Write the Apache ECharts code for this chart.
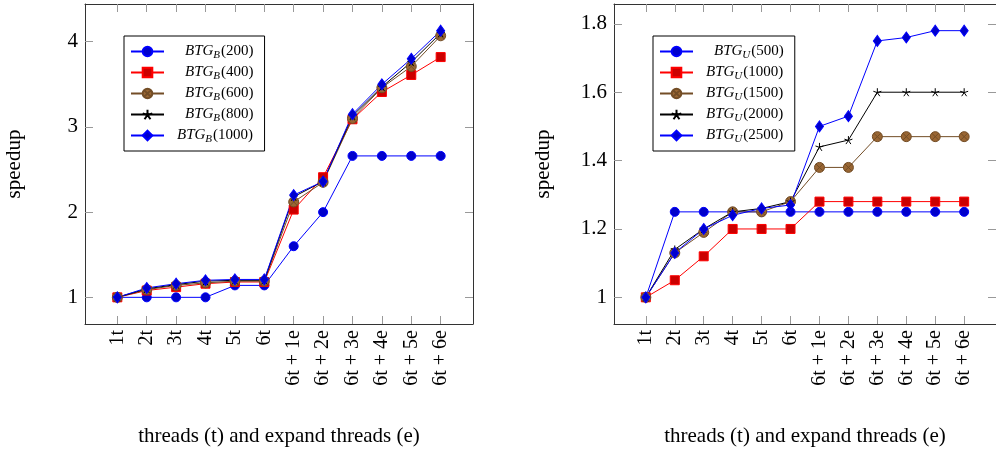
<!DOCTYPE html>
<html><head><meta charset="utf-8">
<script src="https://cdn.jsdelivr.net/npm/echarts@6/dist/echarts.min.js"></script>
<style>html,body{margin:0;padding:0;background:#fff}#c{width:996px;height:452px}</style>
</head><body><div id="c"></div>
<script>
// ---- data ----
const categories = ['1t','2t','3t','4t','5t','6t','6t + 1e','6t + 2e','6t + 3e','6t + 4e','6t + 5e','6t + 6e'];
const leftTicks = [1, 2, 3, 4];
const rightTicks = [1, 1.2, 1.4, 1.6, 1.8];
const leftNames = ['BTG_B(200)','BTG_B(400)','BTG_B(600)','BTG_B(800)','BTG_B(1000)'];
const rightNames = ['BTG_U(500)','BTG_U(1000)','BTG_U(1500)','BTG_U(2000)','BTG_U(2500)'];
const btgB200  = [1, 1,    1,    1,    1.14, 1.14, 1.60, 2.00, 2.66, 2.66, 2.66, 2.66];
const btgB400  = [1, 1.08, 1.12, 1.16, 1.18, 1.18, 2.03, 2.41, 3.09, 3.41, 3.61, 3.82];
const btgB600  = [1, 1.09, 1.14, 1.17, 1.19, 1.19, 2.12, 2.35, 3.10, 3.46, 3.71, 4.07];
const btgB800  = [1, 1.10, 1.15, 1.19, 1.20, 1.20, 2.18, 2.36, 3.13, 3.47, 3.76, 4.10];
const btgB1000 = [1, 1.11, 1.16, 1.20, 1.21, 1.21, 2.20, 2.36, 3.15, 3.50, 3.80, 4.13];
const btgU500  = [1, 1.25, 1.25, 1.25, 1.25, 1.25, 1.25, 1.25, 1.25, 1.25, 1.25, 1.25];
const btgU1000 = [1, 1.05, 1.12, 1.20, 1.20, 1.20, 1.28, 1.28, 1.28, 1.28, 1.28, 1.28];
const btgU1500 = [1, 1.13, 1.19, 1.25, 1.25, 1.28, 1.38, 1.38, 1.47, 1.47, 1.47, 1.47];
const btgU2000 = [1, 1.14, 1.20, 1.25, 1.26, 1.28, 1.44, 1.46, 1.60, 1.60, 1.60, 1.60];
const btgU2500 = [1, 1.13, 1.20, 1.24, 1.26, 1.27, 1.50, 1.53, 1.75, 1.76, 1.78, 1.78];
const leftSeries = [btgB200, btgB400, btgB600, btgB800, btgB1000];
const rightSeries = [btgU500, btgU1000, btgU1500, btgU2000, btgU2500];

// ---- styles ----
const FONT = 'Liberation Serif';
const idx = categories.map((_, i) => i);
const styles = [
  { symbol: 'circle', size: 9, line: '#0000FF', fill: '#0000CC' },
  { symbol: 'rect', size: 9, line: '#FF0000', fill: '#CC0000' },
  { symbol: 'path://M10,0A10,10 0 1,1 10,20A10,10 0 1,1 10,0ZM2.93,2.93L17.07,17.07M17.07,2.93L2.93,17.07', size: 10, line: '#734D26', fill: '#996633' },
  { symbol: 'path://M0,-10L0,0M0,0L9.51,-3.09M0,0L5.88,8.09M0,0L-5.88,8.09M0,0L-9.51,-3.09', size: 8, line: '#000000', fill: 'none' },
  { symbol: 'diamond', size: [8, 11], line: '#0000FF', fill: '#0000CC' }
];

function makeSeries(names, arrays, gi) {
  return arrays.map((arr, k) => {
    const s = styles[k];
    return {
      type: 'line', name: names[k], xAxisIndex: gi * 2, yAxisIndex: gi * 2,
      data: arr.map((v, i) => [i, v]),
      symbol: s.symbol, symbolSize: s.size, showAllSymbol: true,
      lineStyle: { color: s.line, width: 1 },
      itemStyle: { color: s.fill === 'none' ? 'rgba(0,0,0,0)' : s.fill, borderColor: s.line, borderWidth: 1 },
      emphasis: { disabled: true }, animation: false
    };
  });
}

function xAxes(gi) {
  const common = {
    gridIndex: gi, type: 'value', min: -1.1, max: 12.1,
    splitLine: { show: false },
    axisLine: { show: true, onZero: false, lineStyle: { color: '#333', width: 1 } },
    axisTick: { show: true, inside: true, length: 8, customValues: idx, lineStyle: { color: '#999' } }
  };
  return [
    Object.assign({}, common, {
      position: 'bottom',
      axisLabel: { show: true, customValues: idx, rotate: 90, margin: 6, color: '#000',
        fontFamily: FONT, fontSize: 20, formatter: v => categories[Math.round(v)] },
      name: 'threads (t) and expand threads (e)', nameLocation: 'middle', nameGap: 102,
      nameTextStyle: { fontFamily: FONT, fontSize: 21, color: '#000' }
    }),
    Object.assign({}, common, { position: 'top', axisLabel: { show: false } })
  ];
}

function yAxes(gi, min, max, ticks) {
  const common = {
    gridIndex: gi, type: 'value', min: min, max: max,
    splitLine: { show: false },
    axisLine: { show: true, onZero: false, lineStyle: { color: '#333', width: 1 } },
    axisTick: { show: true, inside: true, length: 8, customValues: ticks, lineStyle: { color: '#999' } }
  };
  return [
    Object.assign({}, common, {
      position: 'left',
      axisLabel: { show: true, customValues: ticks, margin: 7, color: '#000', fontFamily: FONT, fontSize: 21,
        formatter: v => String(Math.round(v * 10) / 10) },
      name: 'speedup', nameLocation: 'middle', nameGap: 60,
      nameTextStyle: { fontFamily: FONT, fontSize: 21, color: '#000' }
    }),
    Object.assign({}, common, { position: 'right', axisLabel: { show: false } })
  ];
}

function legend(names, left) {
  return {
    data: names, orient: 'vertical', left: left, top: 36,
    backgroundColor: '#fff', borderColor: '#000', borderWidth: 1,
    padding: [6, 11, 6, 6], itemGap: 2, itemWidth: 33, itemHeight: 12,
    formatter: function (name) {
      const m = name.match(/^BTG_(\w)\((\d+)\)$/);
      const pad = m[2].length === 3 ? 'pb' : 'pa';
      return '{' + pad + '| }{i|BTG}{s|' + m[1] + '}{n|(' + m[2] + ')}';
    },
    textStyle: {
      color: '#000', fontFamily: FONT,
      rich: {
        pa: { width: 8, fontSize: 15, lineHeight: 14 },
        pb: { width: 16, fontSize: 15, lineHeight: 14 },
        i: { fontFamily: FONT, fontStyle: 'italic', fontSize: 15, lineHeight: 14, color: '#000' },
        s: { fontFamily: FONT, fontStyle: 'italic', fontSize: 11, lineHeight: 10, padding: [8, 1, 0, 0], color: '#000' },
        n: { fontFamily: FONT, fontSize: 15, lineHeight: 14, color: '#000' }
      }
    }
  };
}

const chart = echarts.init(document.getElementById('c'), null, { renderer: 'canvas' });
chart.setOption({
  animation: false,
  backgroundColor: '#fff',
  grid: [
    { left: 85, top: 4, width: 388, height: 323 },
    { left: 614, top: 4, width: 388, height: 323 }
  ],
  xAxis: xAxes(0).concat(xAxes(1)),
  yAxis: yAxes(0, 0.687, 4.443, leftTicks).concat(yAxes(1, 0.922, 1.858, rightTicks)),
  legend: [legend(leftNames, 124), legend(rightNames, 653)],
  series: makeSeries(leftNames, leftSeries, 0).concat(makeSeries(rightNames, rightSeries, 1))
});
</script>
</body></html>
